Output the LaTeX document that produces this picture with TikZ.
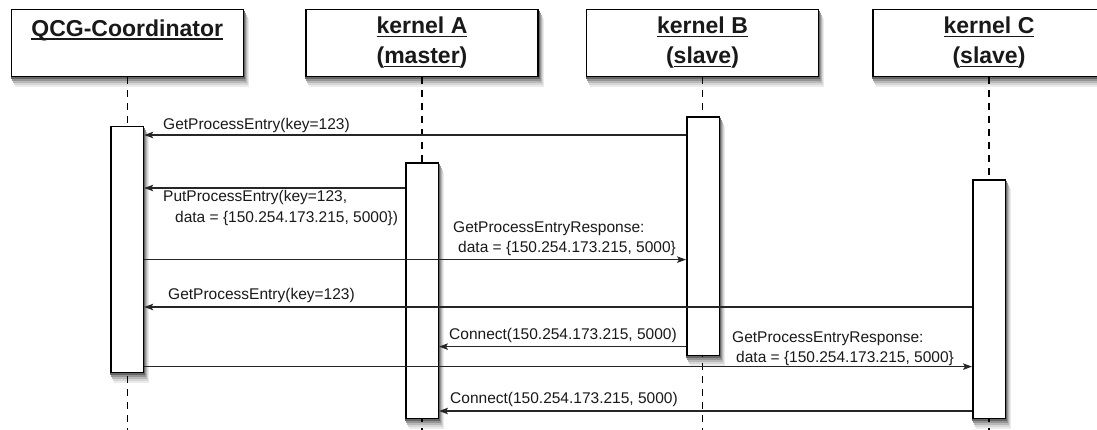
\documentclass[tikz,border=0pt]{standalone}
\usepackage{fontspec}
\setmainfont{Liberation Sans}
\usetikzlibrary{arrows.meta}
\pgfdeclarelayer{shadowLayer}
\pgfsetlayers{shadowLayer,main}
\newcommand{\hdrul}[1]{\setbox0\hbox{#1}\rlap{\rule[-3.5pt]{\wd0}{1.6pt}}\box0}
\newcommand{\boxShadow}[1]{%
\fill[black!8] ([xshift=4pt,yshift=-10pt]#1.south west) rectangle ([xshift=5pt,yshift=-10pt]#1.north east);
\fill[black!16] ([xshift=3pt,yshift=-8pt]#1.south west) rectangle ([xshift=4pt,yshift=-8pt]#1.north east);
\fill[black!28] ([xshift=2pt,yshift=-6pt]#1.south west) rectangle ([xshift=3pt,yshift=-6pt]#1.north east);
\fill[black!42] ([xshift=1pt,yshift=-4pt]#1.south west) rectangle ([xshift=2pt,yshift=-4pt]#1.north east);
\fill[black!60] ([xshift=0pt,yshift=-2pt]#1.south west) rectangle ([xshift=1pt,yshift=-2pt]#1.north east);}
\tikzstyle{headBox}=[draw, line width=1.5pt, fill=white, minimum width=232pt, minimum height=67pt, align=center, text=black!90, font=\fontsize{23}{30}\selectfont\bfseries]
\tikzstyle{actBox}=[draw, line width=1.5pt, fill=white, minimum width=32.5pt, inner sep=0pt]
\tikzstyle{lifeLine}=[line width=1.3pt, dash pattern=on 7pt off 6pt]
\tikzstyle{msg}=[line width=1.1pt, draw=black!85, -{Stealth[length=9pt, width=6.5pt, inset=2pt]}]
\tikzstyle{msgLabel}=[anchor=base west, inner sep=0pt, align=left, text=black!90, font=\fontsize{15.5}{20.5}\selectfont]

\begin{document}
\begin{tikzpicture}[x=1pt, y=-1pt]
\clip (0,0) rectangle (1097,429);
\node[headBox] (hQ) at (127.25,43) {\hdrul{QCG-Coordinator}\\\mbox{}};
\node[headBox] (hA) at (422,43) {\hdrul{kernel A}\\(\hdrul{master})};
\node[headBox] (hB) at (702.5,43) {\hdrul{kernel B}\\(\hdrul{slave})};
\node[headBox] (hC) at (989,43) {\hdrul{kernel C}\\(\hdrul{slave})};
\coordinate (bottom) at (0,432);
\draw[lifeLine] (hQ.south) -- (hQ.south |- bottom);
\draw[lifeLine] (hA.south) -- (hA.south |- bottom);
\draw[lifeLine] (hB.south) -- (hB.south |- bottom);
\draw[lifeLine] (hC.south) -- (hC.south |- bottom);
\node[actBox, minimum height=246pt] (actQ) at (127.25,249.3) {};
\node[actBox, minimum height=255.5pt] (actA) at (422,290.5) {};
\node[actBox, minimum height=238.5pt] (actB) at (703,236) {};
\node[actBox, minimum height=238.5pt] (actC) at (989,299) {};
\begin{pgfonlayer}{shadowLayer}
\boxShadow{hQ}
\boxShadow{hA}
\boxShadow{hB}
\boxShadow{hC}
\boxShadow{actQ}
\boxShadow{actA}
\boxShadow{actB}
\boxShadow{actC}
\end{pgfonlayer}
\coordinate (m1) at (0,135);
\coordinate (m2) at (0,188);
\coordinate (m3) at (0,259.6);
\coordinate (m4) at (0,307);
\coordinate (m5) at (0,346.6);
\coordinate (m6) at (0,366.6);
\coordinate (m7) at (0,411);
\draw[msg] (actB.west |- m1) -- (actQ.east |- m1);
\draw[msg] (actA.west |- m2) -- (actQ.east |- m2);
\draw[msg] (actQ.east |- m3) -- (actB.west |- m3);
\draw[msg] (actC.west |- m4) -- (actQ.east |- m4);
\draw[msg] (actB.west |- m5) -- (actA.east |- m5);
\draw[msg] (actQ.east |- m6) -- (actC.west |- m6);
\draw[msg] (actC.west |- m7) -- (actA.east |- m7);
\node[msgLabel] (l1) at (163,129) {GetProcessEntry(key=123)};
\node[msgLabel] (l2) at (163,222) {PutProcessEntry(key=123,\\\hspace*{12pt}data = \{150.254.173.215, 5000\})};
\node[msgLabel] (l3) at (453,252.5) {GetProcessEntryResponse:\\\hspace*{5pt}data = \{150.254.173.215, 5000\}};
\node[msgLabel] (l4) at (168,299.5) {GetProcessEntry(key=123)};
\node[msgLabel] (l5) at (449,339.5) {Connect(150.254.173.215, 5000)};
\node[msgLabel] (l6) at (732,362.5) {GetProcessEntryResponse:\\\hspace*{4pt}data = \{150.254.173.215, 5000\}};
\node[msgLabel] (l7) at (450,403.5) {Connect(150.254.173.215, 5000)};
\end{tikzpicture}
\end{document}
